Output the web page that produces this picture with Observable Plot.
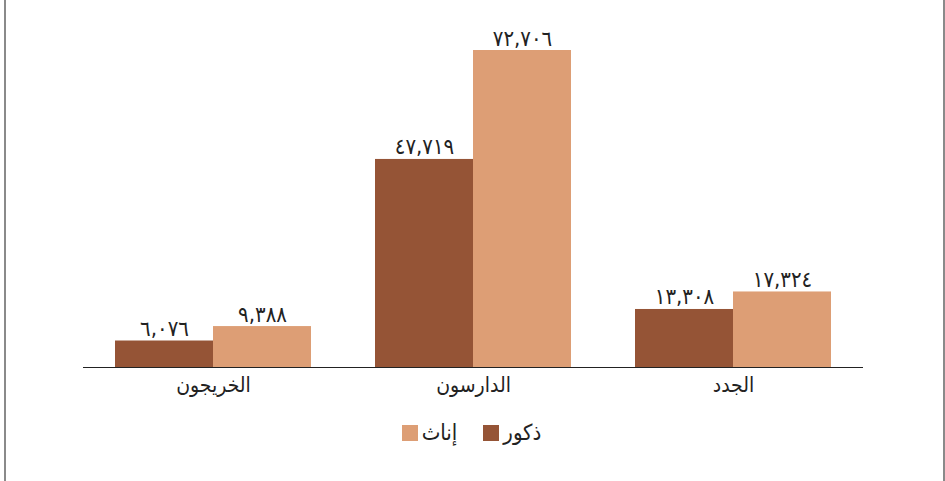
<!DOCTYPE html>
<html lang="ar">
<head>
<meta charset="utf-8">
<script src="https://cdn.jsdelivr.net/npm/d3@7"></script>
<script src="https://cdn.jsdelivr.net/npm/@observablehq/plot@0.6"></script>
<style>
  html, body { margin: 0; padding: 0; background: #fff; }
  #wrap { position: relative; width: 945px; height: 481px; overflow: hidden; }
  #frame { position: absolute; left: 4px; top: 0; width: 937px; height: 481px;
           border-left: 2px solid #8a8a8a; border-right: 2px solid #8a8a8a; pointer-events: none; }
  #legend { display: flex; direction: rtl; justify-content: center; align-items: center;
            gap: 26px; font-family: "DejaVu Sans Condensed", "DejaVu Sans", sans-serif; font-size: 22px; color: #222;
            margin-top: 10px; padding-right: 2px; }
  #legend .item { display: flex; align-items: center; gap: 4px; }
  #legend .sw { width: 16px; height: 16px; display: inline-block; }
</style>
</head>
<body>
<div id="wrap">
  <div id="chart"></div>
  <div id="legend"></div>
  <div id="frame"></div>
</div>
<script>
const groups = ["الخريجون", "الدارسون", "الجدد"];
const seriesNames = ["ذكور", "إناث"];
const males = [6076, 47719, 13308];
const females = [9388, 72706, 17324];
const colors = ["#955436", "#dd9e75"];

const arabicDigits = "٠١٢٣٤٥٦٧٨٩";
const fmt = v => d3.format(",")(v).replace(/[0-9]/g, d => arabicDigits[+d]);

const data = [];
groups.forEach((g, i) => {
  data.push({group: g, sex: seriesNames[0], value: males[i]});
  data.push({group: g, sex: seriesNames[1], value: females[i]});
});

const chart = Plot.plot({
  width: 945,
  height: 410,
  marginLeft: 82,
  marginRight: 81,
  marginTop: 50,
  marginBottom: 43,
  style: {fontFamily: "'DejaVu Sans Condensed', 'DejaVu Sans', sans-serif", fontSize: "21px", color: "#222", background: "#fff"},
  fx: {domain: groups, padding: 0, label: null, axis: "bottom", tickSize: 0, tickPadding: 10},
  x: {domain: seriesNames, padding: 0, paddingOuter: 0.318, axis: null},
  y: {domain: [0, d3.max(females)], nice: false, axis: null},
  color: {domain: seriesNames, range: colors},
  marks: [
    Plot.barY(data, {fx: "group", x: "sex", y: "value", fill: "sex", inset: 0}),
    Plot.text(data, {fx: "group", x: "sex", y: "value", text: d => fmt(d.value),
      lineAnchor: "bottom", dy: -5, fontSize: 22, fill: "#222"}),
    Plot.ruleY([0], {stroke: "#222", strokeWidth: 1.2})
  ]
});
document.getElementById("chart").appendChild(chart);

const legend = document.getElementById("legend");
seriesNames.forEach((s, i) => {
  const item = document.createElement("div");
  item.className = "item";
  const sw = document.createElement("span");
  sw.className = "sw";
  sw.style.background = colors[i];
  const label = document.createElement("span");
  label.textContent = s;
  item.appendChild(label);
  item.appendChild(sw);
  legend.appendChild(item);
});
</script>
</body>
</html>
